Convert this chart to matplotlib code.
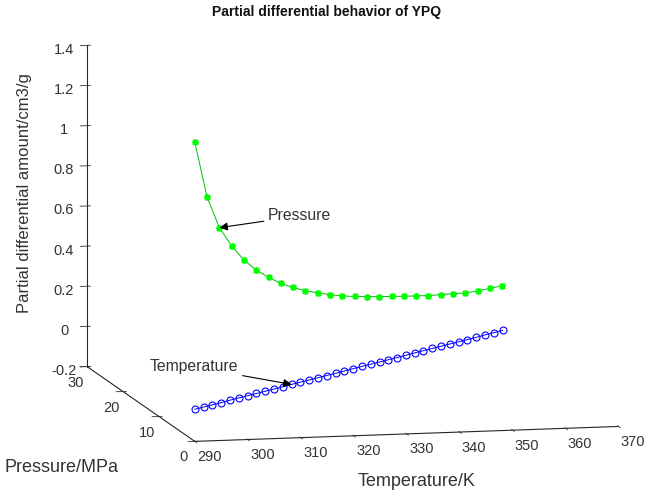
import numpy as np
import matplotlib
matplotlib.use("Agg")
import matplotlib.pyplot as plt
from mpl_toolkits.mplot3d import proj3d

plt.rcParams["font.family"] = ["Liberation Sans", "DejaVu Sans"]

# Temperature derivative (blue circles)
temp_T = [290, 292, 294, 296, 298, 300, 302, 304, 306, 308, 310, 312,
          314, 316, 318, 320, 322, 324, 326, 328, 330, 332, 334, 336,
          338, 340, 342, 344, 346, 348, 350, 352, 354, 356, 358, 360]
temp_P = [0, 0.5, 1, 1.5, 2, 2.5, 3, 3.5, 4, 4.5, 5, 5.5,
          6, 6.5, 7, 7.5, 8, 8.5, 9, 9.5, 10, 10.5, 11, 11.5,
          12, 12.5, 13, 13.5, 14, 14.5, 15, 15.5, 16, 16.5, 17, 17.5]
temp_dV = [-0.040, -0.037, -0.034, -0.031, -0.027, -0.024, -0.021, -0.018,
           -0.015, -0.012, -0.009, -0.005, -0.002, 0.001, 0.004, 0.007,
           0.010, 0.013, 0.017, 0.020, 0.023, 0.026, 0.029, 0.032,
           0.035, 0.039, 0.042, 0.045, 0.048, 0.051, 0.054, 0.057,
           0.060, 0.064, 0.067, 0.070]

# Pressure derivative (green asterisks)
pres_T = [290, 293, 296, 299, 302, 305, 308, 311, 314, 317, 320, 323, 326,
          329, 332, 335, 338, 341, 344, 347, 350, 353, 356, 359, 362, 365]
pres_P = [0, 1, 2, 3, 4, 5, 6, 7, 8, 9, 10, 11, 12,
          13, 14, 15, 16, 17, 18, 19, 20, 21, 22, 23, 24, 25]
pres_dV = [1.29, 1.00, 0.834, 0.728, 0.642, 0.577, 0.526, 0.480, 0.445,
           0.414, 0.388, 0.363, 0.342, 0.324, 0.308, 0.293, 0.279, 0.264,
           0.251, 0.237, 0.227, 0.216, 0.205, 0.199, 0.197, 0.195]

x_ticks = [290, 300, 310, 320, 330, 340, 350, 360, 370]
y_ticks = [0, 10, 20, 30]
z_ticks = [-0.2, 0, 0.2, 0.4, 0.6, 0.8, 1.0, 1.2, 1.4]
z_ticklabels = ["-0.2", "0", "0.2", "0.4", "0.6", "0.8", "1", "1.2", "1.4"]

txt_col = "#333333"

fig = plt.figure(figsize=(6.53, 4.93), dpi=100)
ax = fig.add_axes([0.03, 0.008, 1.0, 1.0], projection="3d")
ax.set_proj_type("ortho")
ax.view_init(elev=9.0, azim=-102.7)
ax.set_box_aspect((434, 490, 325), zoom=1.44)

ax.plot(pres_T, pres_P, pres_dV, color="#00c000", lw=0.7,
        marker=(8, 2, 0), ms=5, mec="#00ff00", mew=1.0)
ax.plot(temp_T, temp_P, temp_dV, color="#0000ff", lw=0.7,
        marker="o", ms=5, mfc="none", mec="#0000ff", mew=0.8)

ax.set_xlim(290, 370)
ax.set_ylim(0, 30)
ax.set_zlim(-0.2, 1.4)
ax.set_xticks(x_ticks)
ax.set_yticks(y_ticks)
ax.set_zticks(z_ticks)
ax.set_zticklabels(z_ticklabels)
ax.grid(False)
for axis in (ax.xaxis, ax.yaxis, ax.zaxis):
    axis.set_pane_color((1, 1, 1, 0))
    axis.pane.set_edgecolor((1, 1, 1, 0))
    axis.line.set_color("#262626")
    axis.line.set_linewidth(0.8)
    axis._axinfo["tick"]["color"] = "#262626"
    axis._axinfo["tick"]["linewidth"] = {True: 0.6, False: 0.5}
ax.tick_params(labelsize=10.5, colors=txt_col, pad=2)
ax.tick_params(axis="x", pad=-4)
ax.tick_params(axis="y", pad=-3)
ax.tick_params(axis="z", pad=0)
for lab in ax.get_xticklabels():
    lab.set_horizontalalignment("left")

fig.text(0.5, 0.975, "Partial differential behavior of YPQ",
         ha="center", va="center", fontsize=10, fontweight="bold", color="#111111")
fig.text(417 / 653, 1 - 481 / 493, "Temperature/K", ha="center", va="center",
         fontsize=13, color=txt_col)
fig.text(62 / 653, 1 - 467 / 493, "Pressure/MPa", ha="center", va="center",
         fontsize=13, color=txt_col)
fig.text(25 / 653, 1 - 193 / 493, "Partial differential amount/cm3/g",
         ha="center", va="center", rotation=90, fontsize=12, color=txt_col)

fig.canvas.draw()
M = ax.get_proj()
px, py, _ = proj3d.proj_transform(pres_T[2], pres_P[2], pres_dV[2], M)
tx, ty, _ = proj3d.proj_transform(temp_T[11], temp_P[11], temp_dV[11], M)
arrow = dict(arrowstyle="-|>", color="black", lw=0.8, mutation_scale=12,
             shrinkA=1, shrinkB=0)
ax.annotate("Pressure", xy=(px, py), xycoords="data",
            xytext=(268, 493 - 216), textcoords="figure pixels",
            ha="left", va="center", fontsize=11.3, color=txt_col,
            arrowprops=arrow)
ax.annotate("Temperature", xy=(tx, ty), xycoords="data",
            xytext=(150, 493 - 367), textcoords="figure pixels",
            ha="left", va="center", fontsize=11.3, color=txt_col,
            arrowprops=arrow)

fig.savefig("out.png", dpi=100)
